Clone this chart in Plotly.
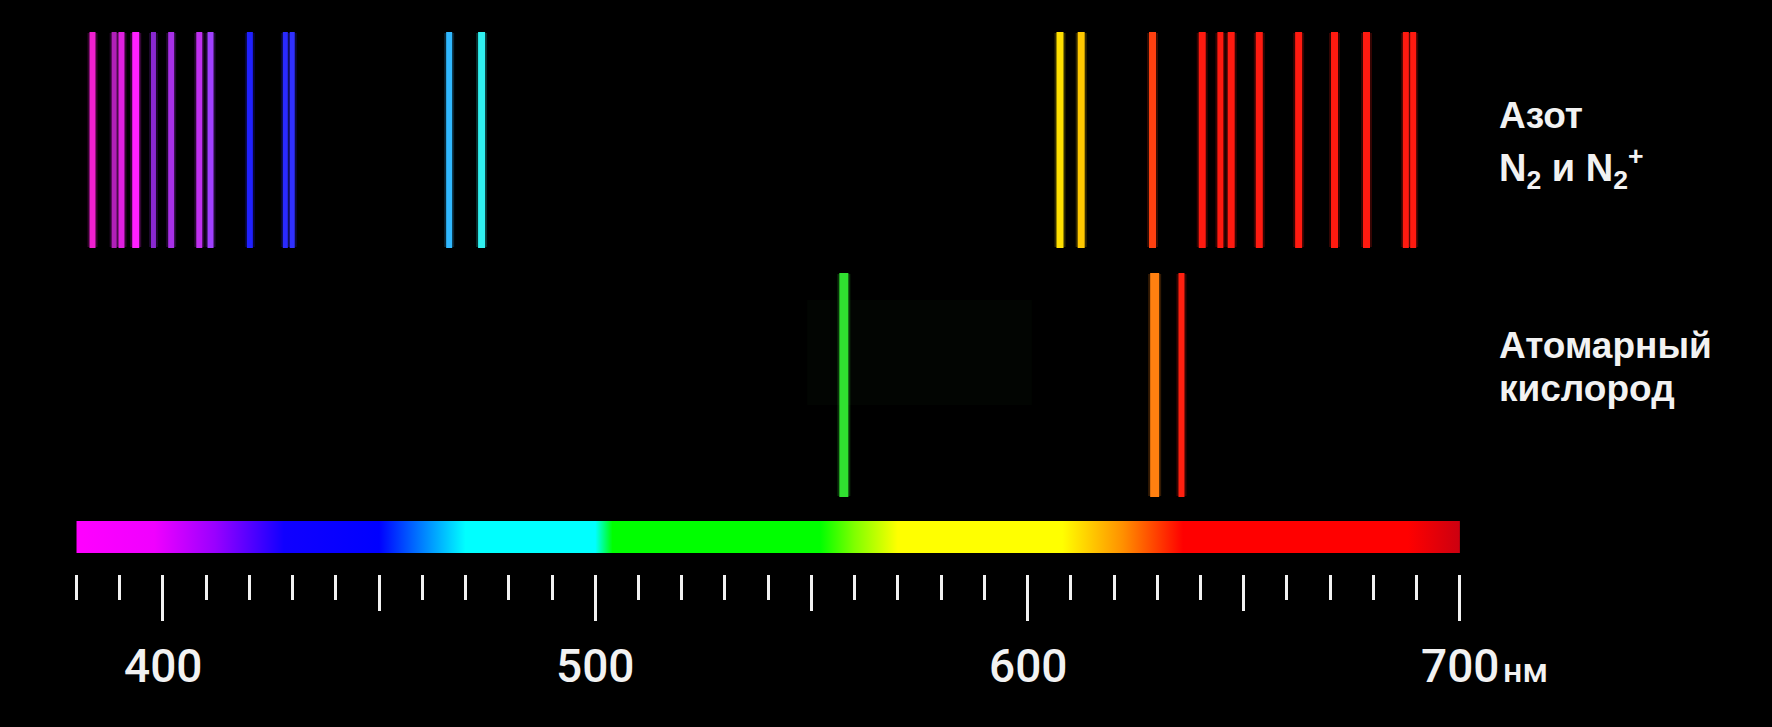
import plotly.graph_objects as go

# Emission lines, wavelength in nm
n2_lines = [383.7, 388.7, 390.4, 393.7, 397.8, 401.9, 408.4, 411.0, 420.1, 428.3, 429.9,
            466.2, 473.7, 607.5, 612.4, 628.9, 640.4, 644.6, 647.1, 653.6, 662.7,
            671.0, 678.4, 687.5, 689.2]
n2_colors = ['#f020d0', '#b020b8', '#e020e0', '#ff20ff', '#8a28d0', '#a830e8', '#c030f0',
             '#a040ff', '#2020ff', '#2a2aff', '#3030ff', '#30b8ff', '#30f0f0',
             '#ffe000', '#ffc800', '#ff4010', '#ff1a10', '#ff1a10', '#ff1a10', '#ff1a10',
             '#ff1a10', '#ff1a10', '#ff1a10', '#ff1a10', '#ff1a10']
n2_widths = [6, 5, 6, 7, 5, 6, 6, 6, 6, 5, 5, 6, 7, 7, 7, 7, 7, 6, 7, 7, 7, 7, 7, 6, 6]

o_lines = [557.5, 629.4, 635.6]
o_colors = ['#30e030', '#ff8010', '#ff2010']
o_widths = [9, 9, 6]

# Visible spectrum strip
spectrum_nm = [380, 398, 412, 428, 450, 460, 470, 500, 504, 552, 560, 570, 608, 622, 636, 688, 700]
spectrum_colors = ['#ff00ff', '#f000ff', '#9a00ff', '#1000ff', '#0000ff', '#0080ff', '#00ffff',
                   '#00ffff', '#00ff00', '#00ff00', '#80ff00', '#ffff00', '#ffff00', '#ff9000',
                   '#ff0000', '#ff0000', '#cc0010']

major_ticks = [400, 500, 600, 700]
medium_ticks = [450, 550, 650]
minor_ticks = list(range(380, 710, 10))
tick_labels = ['400', '500', '600', '700']

FONT = 'Roboto, Liberation Sans, sans-serif'
LABEL_FONT = 'Liberation Sans, Arial, sans-serif'
WHITE = '#f2f2f2'
N2_ROW = (32, 248)
O_ROW = (273, 497)
BAR = (521, 553)
AXIS_Y = 574

fig = go.Figure()

# faint glow near the green oxygen line
fig.add_shape(type='rect', x0=549, x1=601, y0=300, y1=405, xref='x', yref='y',
              fillcolor='rgba(30,70,30,0.08)', line_width=0, layer='below')

lo, hi = spectrum_nm[0], spectrum_nm[-1]
fig.add_trace(go.Scatter(
    x=[lo, hi, hi, lo, lo], y=[BAR[0], BAR[0], BAR[1], BAR[1], BAR[0]],
    mode='lines', line=dict(width=0), fill='toself',
    fillgradient=dict(type='horizontal',
                      colorscale=[[(nm - lo) / (hi - lo), c] for nm, c in zip(spectrum_nm, spectrum_colors)]),
    hoverinfo='skip'
))


def add_lines(waves, colors, widths, row):
    for wl, c, w in zip(waves, colors, widths):
        # soft halo then bright core
        fig.add_trace(go.Scatter(x=[wl, wl], y=[row[0] + 1, row[1] - 1], mode='lines',
                                 line=dict(color=c, width=w + 4), opacity=0.2, hoverinfo='skip'))
        fig.add_trace(go.Scatter(x=[wl, wl], y=list(row), mode='lines',
                                 line=dict(color=c, width=w), hovertemplate='%{x} нм<extra></extra>'))


add_lines(n2_lines, n2_colors, n2_widths, N2_ROW)
add_lines(o_lines, o_colors, o_widths, O_ROW)

# dummy trace so the medium-tick axis is drawn
fig.add_trace(go.Scatter(x=medium_ticks, y=[None] * len(medium_ticks), xaxis='x2',
                         mode='markers', hoverinfo='skip'))

for val, txt in zip(major_ticks, tick_labels):
    fig.add_annotation(x=val, y=666, text=txt, showarrow=False, xanchor='center', yanchor='middle',
                       font=dict(family=FONT, size=46, color=WHITE, weight=500))
fig.add_annotation(x=major_ticks[-1], y=670, text='нм', showarrow=False, xanchor='left', yanchor='middle',
                   xshift=41, font=dict(family=FONT, size=34, color=WHITE, weight=500))

label_x = 1497 / 1772
labels = [('Азот', 115, 37), ('N<sub>2</sub> и N<sub>2</sub><sup>+</sup>', 168, 38),
          ('Атомарный', 345, 37), ('кислород', 388, 37)]
for txt, y, size in labels:
    fig.add_annotation(x=label_x, xref='paper', y=y, text=txt, showarrow=False,
                       xanchor='left', yanchor='middle',
                       font=dict(family=LABEL_FONT, size=size, color=WHITE, weight=700))

axis_pos = 1 - AXIS_Y / 727
fig.update_layout(
    width=1772, height=727,
    margin=dict(l=0, r=0, t=0, b=0),
    paper_bgcolor='black', plot_bgcolor='black',
    showlegend=False,
    xaxis=dict(
        range=[362.3, 772.2], anchor='free', position=axis_pos,
        showgrid=False, zeroline=False, showline=False,
        tickmode='array', tickvals=major_ticks, showticklabels=False,
        ticks='outside', ticklen=46, tickwidth=3, tickcolor=WHITE,
        minor=dict(tickmode='array', tickvals=minor_ticks, ticks='outside',
                   ticklen=25, tickwidth=3, tickcolor=WHITE),
    ),
    xaxis2=dict(
        matches='x', overlaying='x', anchor='free', position=axis_pos,
        showgrid=False, zeroline=False, showline=False,
        tickmode='array', tickvals=medium_ticks, showticklabels=False,
        ticks='outside', ticklen=36, tickwidth=3, tickcolor=WHITE,
    ),
    yaxis=dict(range=[727, 0], visible=False, showgrid=False, zeroline=False),
)

fig.write_html('out.html', config={'displayModeBar': False},
               post_script="document.body.style.margin='0';document.body.style.background='black';")
